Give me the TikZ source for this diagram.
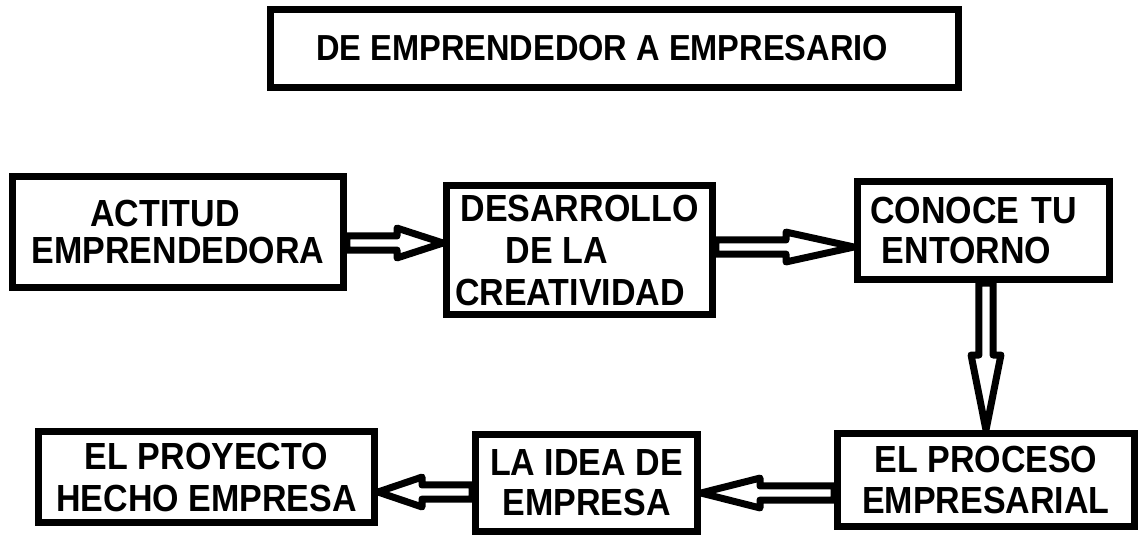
\documentclass[tikz,border=0pt]{standalone}
\usepackage{fontspec}
\setmainfont{Liberation Sans}[FakeStretch=0.9]
\usetikzlibrary{calc}
\tikzset{
  box/.style={draw=black, line width=0.14cm, rectangle, inner sep=0pt, align=center,
    font=\bfseries\fontsize{21.5pt}{23pt}\selectfont},
  blockarrow/.style={draw=black, line width=0.14cm, line join=round}
}
\newcommand\hblock[3]{\draw[blockarrow] let \p1=(#1), \p2=(#2), \p3=(#3) in
  (\x1,\y1+4pt) -- (\x2,\y1+4pt) -- (\x2,\y1+8.5pt) -- (\x3,\y1) --
  (\x2,\y1-8.5pt) -- (\x2,\y1-4pt) -- (\x1,\y1-4pt) -- cycle;}
\newcommand\vblock[3]{\draw[blockarrow] let \p1=(#1), \p2=(#2), \p3=(#3) in
  (\x1+4pt,\y1) -- (\x1+4pt,\y2) -- (\x1+8.5pt,\y2) -- (\x1,\y3) --
  (\x1-8.5pt,\y2) -- (\x1-4pt,\y2) -- (\x1-4pt,\y1) -- cycle;}
\begin{document}
\begin{tikzpicture}[x=0.02cm, y=-0.02cm]
\useasboundingbox[fill=white] (0,0) rectangle (1140,539);

% title
\node[box, minimum width=13.76cm, minimum height=1.56cm,
  font=\bfseries\fontsize{20.6pt}{23pt}\selectfont] (title) at (614.5,48.5)
  {DE EMPRENDEDOR A EMPRESARIO\kern 14pt};

% top row
\node[box, minimum width=6.62cm, minimum height=2.22cm,
  font=\bfseries\fontsize{21.5pt}{21.6pt}\selectfont] (A) at (178,232)
  {ACTITUD\kern 14.8pt\\EMPRENDEDORA};
\node[box, minimum width=5.32cm, minimum height=2.58cm,
  font=\bfseries\fontsize{21.5pt}{23.9pt}\selectfont] (B) at (579.5,250)
  {DESARROLLO\\DE LA\kern 26pt\\CREATIVIDAD\kern 10.8pt};
\node[box, minimum width=5.04cm, minimum height=1.96cm, align=left, text width=4.54cm,
  font=\bfseries\fontsize{21.5pt}{23.3pt}\selectfont] (C) at (983.5,230.5)
  {CONOCE TU\\\hspace*{6.7pt}ENTORNO};

% bottom row
\node[box, minimum width=5.94cm, minimum height=1.86cm,
  font=\bfseries\fontsize{21.5pt}{22.8pt}\selectfont] (D) at (986,480)
  {EL PROCESO\\EMPRESARIAL};
\node[box, minimum width=4.44cm, minimum height=1.94cm,
  font=\bfseries\fontsize{21.5pt}{22.8pt}\selectfont] (E) at (586.5,483)
  {LA IDEA DE\\EMPRESA};
\node[box, minimum width=6.72cm, minimum height=1.82cm,
  font=\bfseries\fontsize{21.5pt}{23.9pt}\selectfont] (F) at (206.5,477)
  {EL PROYECTO\\HECHO EMPRESA};

% arrow reference coordinates
\coordinate (y1) at (0,243);
\coordinate (h1) at (397,243);
\coordinate (y2) at (0,247);
\coordinate (h2) at (786,247);
\coordinate (x3) at (986,0);
\coordinate (h3) at (986,355);
\coordinate (y4) at (0,493);
\coordinate (h4) at (760,493);
\coordinate (y5) at (0,492);
\coordinate (h5) at (422,492);

\hblock{A.east |- y1}{h1}{B.west |- y1}
\hblock{B.east |- y2}{h2}{C.west |- y2}
\vblock{C.south -| x3}{h3}{D.north -| x3}
\hblock{D.west |- y4}{h4}{E.east |- y4}
\hblock{E.west |- y5}{h5}{F.east |- y5}
\end{tikzpicture}
\end{document}
